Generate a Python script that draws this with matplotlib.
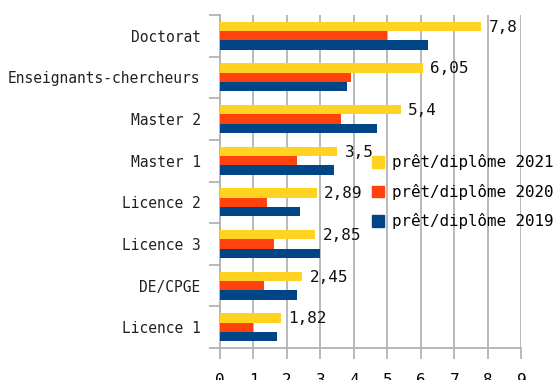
import numpy as np
import matplotlib.pyplot as plt
from matplotlib.patches import Patch

categories = ['Licence 1', 'DE/CPGE', 'Licence 3', 'Licence 2',
              'Master 1', 'Master 2', 'Enseignants-chercheurs', 'Doctorat']
pret_2021 = [1.82, 2.45, 2.85, 2.89, 3.5, 5.4, 6.05, 7.8]
pret_2020 = [1.0, 1.3, 1.6, 1.4, 2.3, 3.6, 3.9, 5.0]
pret_2019 = [1.7, 2.3, 3.0, 2.4, 3.4, 4.7, 3.8, 6.2]
labels_2021 = ['1,82', '2,45', '2,85', '2,89', '3,5', '5,4', '6,05', '7,8']
series_names = ['prêt/diplôme 2021', 'prêt/diplôme 2020', 'prêt/diplôme 2019']

yellow, red, blue = '#ffd320', '#ff420e', '#004586'
grey = '#b3b3b3'
font = 'DejaVu Sans Mono'

fig = plt.figure(figsize=(5.57, 3.80), dpi=100)
ax = fig.add_axes([0.395, 0.0842, 0.541, 0.8763])

y = np.arange(len(categories))
h = 0.224
ax.barh(y + h, pret_2021, height=h, color=yellow, zorder=3)
ax.barh(y, pret_2020, height=h, color=red, zorder=3)
ax.barh(y - h, pret_2019, height=h, color=blue, zorder=3)

for yi, v, txt in zip(y, pret_2021, labels_2021):
    ax.text(v + 0.22, yi + h - 0.02, txt, va='center', ha='left',
            fontsize=11.5, family=font, color='#111111')

ax.set_xlim(0, 9)
ax.set_ylim(-0.5, len(categories) - 0.5)
ax.set_xticks(np.arange(0, 10))
ax.set_xticklabels([str(i) for i in range(10)], fontsize=11.5, family=font)
ax.xaxis.grid(True, color=grey, linewidth=1.3, zorder=0)

ax.set_yticks(np.arange(-0.5, len(categories)), labels=[''] * (len(categories) + 1))
ax.set_yticks(y, minor=True)
ax.set_yticklabels(categories, minor=True, fontsize=10.5, family=font, color='#222222')
ax.tick_params(axis='y', which='minor', length=0, pad=14)
ax.tick_params(axis='y', which='major', length=8, width=1.3, color=grey)
ax.tick_params(axis='x', length=8, width=1.3, color=grey, pad=10)

for side in ['top', 'right']:
    ax.spines[side].set_visible(False)
for side in ['left', 'bottom']:
    ax.spines[side].set_color(grey)
    ax.spines[side].set_linewidth(1.3)

handles = [Patch(color=c) for c in (yellow, red, blue)]
fig.legend(handles, series_names, loc='center left',
           bbox_to_anchor=(0.648, 0.495), frameon=False,
           prop={'family': font, 'size': 11.4},
           handlelength=0.75, handleheight=0.75, handletextpad=0.5,
           labelspacing=0.85, borderpad=0.2)

fig.savefig('out.png', dpi=100)
